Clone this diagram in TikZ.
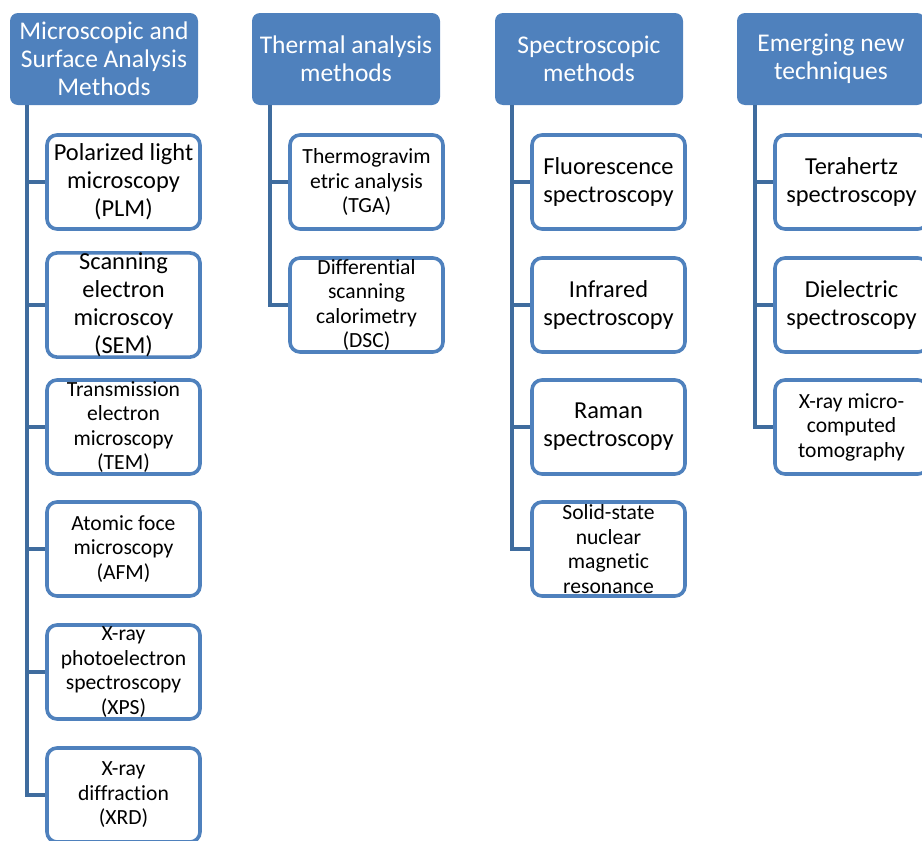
\documentclass[tikz,border=0pt]{standalone}
\usepackage{fontspec}
\setmainfont{Carlito}[Ligatures=NoCommon]
\usetikzlibrary{positioning}
\definecolor{headblue}{HTML}{4F81BD}
\definecolor{boxblue}{HTML}{4F81BD}
\definecolor{lineblue}{HTML}{3F6C9E}

\begin{document}
\begin{tikzpicture}[x=1pt, y=-1pt,
  grouphead/.style={rectangle, rounded corners=8pt, fill=headblue, text=white, minimum width=188pt, minimum height=92pt, align=center, inner sep=1pt, font=\fontsize{25.5}{28}\selectfont},
  method/.style={rectangle, rounded corners=10pt, draw=boxblue, line width=3.6pt, fill=white, minimum width=153pt, minimum height=94pt, align=center, inner sep=0pt, font=\fontsize{24.4}{28}\selectfont},
  methodsmall/.style={method, font=\fontsize{21.6}{24.5}\selectfont},
  link/.style={draw=lineblue, line width=4pt}]
        % Fix the size of the page
        \useasboundingbox (0,0) rectangle (922,841);

        % Draw the four group headers
        \node[grouphead] (micro) at (104,59) {Microscopic and\\Surface Analysis\\Methods};
        \node[grouphead] (therm) at (346,59) {Thermal analysis\\methods};
        \node[grouphead] (spec) at (589,59) {Spectroscopic\\methods};
        \node[grouphead] (emerg) at (831,59) {Emerging new\\techniques};

        % Microscopic and surface analysis methods
        \node[method] (plm) at (123.5,182) {Polarized light\\microscopy\\(PLM)};
        \node[method] (sem) at (123.5,305) {Scanning\\electron\\microscoy\\(SEM)};
        \node[methodsmall] (tem) at (123.5,427) {Transmission\\electron\\microscopy\\(TEM)};
        \node[methodsmall] (afm) at (123.5,549) {Atomic foce\\microscopy\\(AFM)};
        \node[methodsmall] (xps) at (123.5,672) {X-ray\\photoelectron\\spectroscopy\\(XPS)};
        \node[methodsmall] (xrd) at (123.5,795) {X-ray\\diffraction\\(XRD)};

        % Thermal analysis methods
        \node[methodsmall] (tga) at (366.5,182) {Thermogravim\\etric analysis\\(TGA)};
        \node[methodsmall] (dsc) at (366.5,305) {Differential\\scanning\\calorimetry\\(DSC)};

        % Spectroscopic methods
        \node[method] (fluo) at (608.5,182) {Fluorescence\\spectroscopy};
        \node[method] (ir) at (608.5,305) {Infrared\\spectroscopy};
        \node[method] (raman) at (608.5,427) {Raman\\spectroscopy};
        \node[methodsmall] (nmr) at (608.5,549) {Solid-state\\nuclear\\magnetic\\resonance};

        % Emerging new techniques
        \node[method] (thz) at (851.5,182) {Terahertz\\spectroscopy};
        \node[method] (diel) at (851.5,305) {Dielectric\\spectroscopy};
        \node[methodsmall] (xct) at (851.5,427) {X-ray micro-\\computed\\tomography};

        % Connect every method to its header
        \foreach \m in {plm,sem,tem,afm,xps,xrd}
          \draw[link] ([xshift=17pt]micro.south west) |- (\m.west);
        \foreach \m in {tga,dsc}
          \draw[link] ([xshift=18pt]therm.south west) |- (\m.west);
        \foreach \m in {fluo,ir,raman,nmr}
          \draw[link] ([xshift=17pt]spec.south west) |- (\m.west);
        \foreach \m in {thz,diel,xct}
          \draw[link] ([xshift=18pt]emerg.south west) |- (\m.west);
      \end{tikzpicture}
\end{document}
